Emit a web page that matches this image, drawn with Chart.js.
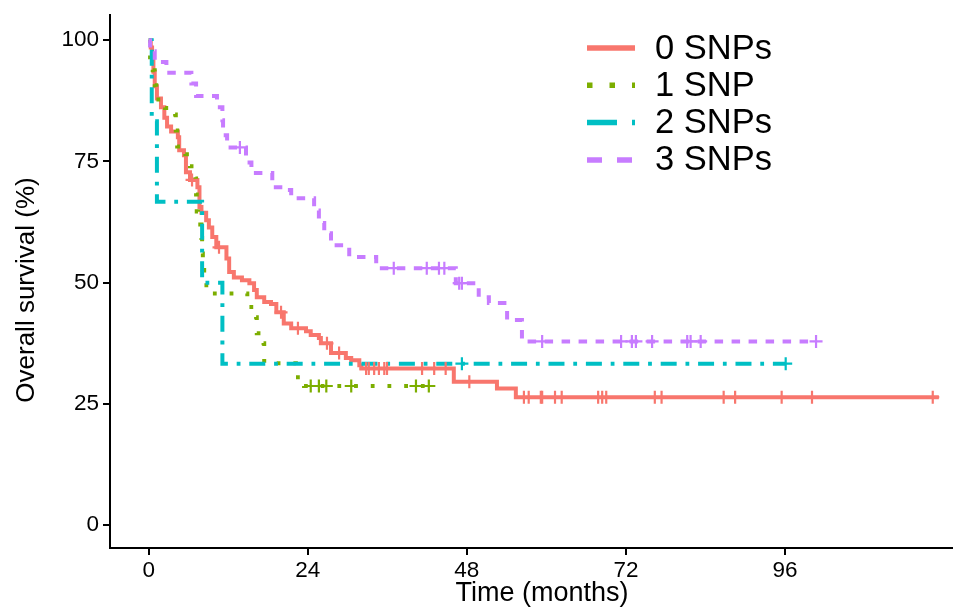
<!DOCTYPE html>
<html><head><meta charset="utf-8">
<script src="https://cdn.jsdelivr.net/npm/chart.js@4.4.0/dist/chart.umd.min.js"></script>
<style>html,body{margin:0;padding:0;background:#fff;} #wrap{width:961px;height:610px;}</style>
</head><body><div id="wrap"><canvas id="c" width="961" height="610"></canvas></div>
<script>
const seriesNames = ['0 SNPs', '1 SNP', '2 SNPs', '3 SNPs'];
const seriesColors = ['#F8766D', '#7CAE00', '#00BFC4', '#C77CFF'];
const xTicks = [0, 24, 48, 72, 96];
const yTicks = [0, 25, 50, 75, 100];
const xTitle = 'Time (months)';
const yTitle = 'Overall survival (%)';

// 0 SNPs
const snp0Time = [0, 0.3, 0.5, 0.7, 0.9, 1.23, 1.84, 2.35, 2.76, 3.37, 4.39, 4.59, 5.31, 5.61, 6.22, 7.34, 7.65, 7.95, 8.66, 9.07, 9.58, 10.19, 11.72, 12.13, 12.84, 14.06, 15.18, 15.89, 16.3, 17.42, 18.44, 19.25, 20.37, 21.49, 23.73, 24.44, 25.67, 25.97, 27.5, 29.74, 30.55, 31.77, 32.08, 46.03, 52.54, 55.39, 119.22];
const snp0Surv = [100, 98.5, 95.9, 93.5, 90.5, 88.0, 86.2, 84.0, 82.2, 81.2, 80.0, 77.3, 76.3, 72.8, 71.2, 69.7, 65.6, 64.4, 62.9, 61.4, 59.4, 57.3, 55.0, 52.2, 51.1, 50.5, 49.9, 48.5, 47.0, 46.0, 45.6, 43.9, 41.6, 40.6, 40.0, 39.2, 38.6, 37.5, 35.5, 34.5, 34.0, 33.0, 32.3, 29.6, 28.2, 26.4, 26.4];
const snp0CensTime = [6.53, 10.6, 19.96, 22.51, 26.89, 28.72, 32.79, 33.2, 34.01, 34.73, 35.54, 35.95, 41.24, 43.07, 44.8, 48.37, 56.61, 57.33, 59.16, 59.36, 61.3, 62.31, 67.81, 68.42, 69.03, 76.36, 77.38, 86.75, 88.48, 95.5, 100.08, 118.3];
const snp0CensSurv = [71.2, 57.3, 43.9, 40.6, 37.5, 35.5, 32.3, 32.3, 32.3, 32.3, 32.3, 32.3, 32.3, 32.3, 32.3, 29.6, 26.4, 26.4, 26.4, 26.4, 26.4, 26.4, 26.4, 26.4, 26.4, 26.4, 26.4, 26.4, 26.4, 26.4, 26.4, 26.4];

// 1 SNP
const snp1Time = [0, 0.2, 0.6, 0.9, 1.13, 2.46, 3.98, 4.08, 4.29, 5.51, 6.22, 7.04, 7.14, 7.24, 7.44, 7.95, 8.05, 8.16, 8.36, 9.58, 14.87, 16.2, 16.3, 17.32, 17.42, 22.2, 23.43, 42.56];
const snp1Surv = [100, 96.5, 93.8, 90.7, 87.8, 86.0, 84.7, 81.4, 78.1, 76.5, 74.0, 71.5, 68.2, 64.7, 62.0, 59.2, 56.0, 52.6, 49.5, 47.8, 45.0, 42.9, 39.6, 37.5, 33.4, 30.5, 28.7, 28.7];
const snp1CensTime = [24.44, 25.67, 26.79, 30.55, 40.32, 42.26];
const snp1CensSurv = [28.7, 28.7, 28.7, 28.7, 28.7, 28.7];

// 2 SNPs
const snp2Time = [0, 0.45, 1.23, 8.05, 11.11, 96.11];
const snp2Surv = [100, 83.3, 66.7, 50.0, 33.3, 33.3];
const snp2CensTime = [47.25, 96.11];
const snp2CensSurv = [33.3, 33.3];

// 3 SNPs
const snp3Time = [0, 0.2, 0.9, 2.66, 6.43, 7.14, 10.29, 11.11, 11.21, 11.82, 14.67, 15.49, 18.64, 20.37, 21.49, 24.95, 25.67, 26.48, 27.5, 30.25, 34.32, 46.33, 49.79, 51.32, 54.07, 56.31, 100.69];
const snp3Surv = [100, 97.7, 95.5, 93.3, 91.1, 88.5, 86.2, 83.5, 80.4, 77.9, 74.8, 72.6, 69.7, 69.1, 67.4, 64.9, 62.3, 60.2, 57.7, 55.3, 53.0, 49.9, 47.0, 45.8, 42.3, 37.9, 37.9];
const snp3CensTime = [13.75, 36.97, 41.95, 43.79, 44.6, 46.84, 47.25, 59.36, 71.27, 72.9, 73.51, 75.95, 81.25, 81.76, 83.28, 100.69];
const snp3CensSurv = [77.9, 53.0, 53.0, 53.0, 53.0, 49.9, 49.9, 37.9, 37.9, 37.9, 37.9, 37.9, 37.9, 37.9, 37.9, 37.9];

const curveTimes = [snp0Time, snp1Time, snp2Time, snp3Time];
const curveSurv = [snp0Surv, snp1Surv, snp2Surv, snp3Surv];
const censTimes = [snp0CensTime, snp1CensTime, snp2CensTime, snp3CensTime];
const censSurv = [snp0CensSurv, snp1CensSurv, snp2CensSurv, snp3CensSurv];

const plotDash = [[], [3.8, 12.9], [3.8, 8.8, 16, 8.8], [8.5, 8.5]];
const legendDash = [[], [5.5, 17], [30, 15, 5, 20], [15, 15]];

const datasets = [];
seriesNames.forEach((name, i) => {
  datasets.push({
    type: 'line', label: name,
    data: curveTimes[i].map((t, j) => ({x: t, y: curveSurv[i][j]})),
    stepped: true, borderColor: seriesColors[i], backgroundColor: seriesColors[i],
    borderWidth: 4, borderDash: plotDash[i], borderCapStyle: 'butt', borderJoinStyle: 'miter',
    pointRadius: 0, fill: false, tension: 0, order: 10 - i
  });
});
seriesNames.forEach((name, i) => {
  datasets.push({
    type: 'scatter', label: name + ' censored',
    data: censTimes[i].map((t, j) => ({x: t, y: censSurv[i][j]})),
    showLine: false, pointStyle: 'cross', pointRadius: 6.5, pointBorderWidth: 2.2,
    borderColor: seriesColors[i], backgroundColor: seriesColors[i], order: 4 - i
  });
});

const fontFam = '"Liberation Sans", Arial, sans-serif';

const legendPlugin = {
  id: 'kmLegend',
  afterDraw(chart) {
    const ctx = chart.ctx;
    ctx.save();
    seriesNames.forEach((name, i) => {
      const y = 48 + i * 37.3;
      ctx.strokeStyle = seriesColors[i];
      ctx.lineWidth = 5.5;
      ctx.lineCap = 'butt';
      ctx.setLineDash(legendDash[i]);
      ctx.beginPath(); ctx.moveTo(587, y); ctx.lineTo(635, y); ctx.stroke();
      ctx.setLineDash([]);
      ctx.fillStyle = '#000';
      ctx.font = '34.5px ' + fontFam;
      ctx.textBaseline = 'middle';
      ctx.textAlign = 'left';
      ctx.fillText(name, 655, y + 1);
    });
    ctx.fillStyle = '#000';
    ctx.font = '27px ' + fontFam;
    ctx.textAlign = 'center';
    ctx.textBaseline = 'middle';
    ctx.fillText(xTitle, 542, 594);
    ctx.translate(27, 290);
    ctx.rotate(-Math.PI / 2);
    ctx.font = '26px ' + fontFam;
    ctx.fillText(yTitle, 0, 0);
    ctx.restore();
  }
};

new Chart(document.getElementById('c'), {
  data: {datasets},
  options: {
    responsive: false, animation: false, devicePixelRatio: 1,
    layout: {padding: {top: 15, right: 1, left: 0, bottom: 0}},
    plugins: {legend: {display: false}, tooltip: {enabled: false}},
    scales: {
      x: {
        type: 'linear', min: -5.85, max: 121.25,
        afterBuildTicks: s => { s.ticks = xTicks.map(v => ({value: v})); },
        afterFit: s => { s.height = 62; s.paddingRight = 0; s.paddingLeft = 0; },
        ticks: {font: {family: fontFam, size: 22.5}, color: '#000', padding: 2, autoSkip: false, maxRotation: 0},
        grid: {drawOnChartArea: false, drawTicks: true, tickLength: 7, color: '#000', lineWidth: 2},
        border: {color: '#000', width: 2},
        title: {display: false}
      },
      y: {
        type: 'linear', min: -4.7, max: 105.2,
        afterBuildTicks: s => { s.ticks = yTicks.map(v => ({value: v})); },
        afterFit: s => { s.width = 110; s.paddingTop = 0; s.paddingBottom = 0; },
        ticks: {font: {family: fontFam, size: 22.5}, color: '#000', padding: 4, autoSkip: false},
        grid: {drawOnChartArea: false, drawTicks: true, tickLength: 7, color: '#000', lineWidth: 2},
        border: {color: '#000', width: 2},
        title: {display: false}
      }
    }
  },
  plugins: [legendPlugin]
});
</script></body></html>
